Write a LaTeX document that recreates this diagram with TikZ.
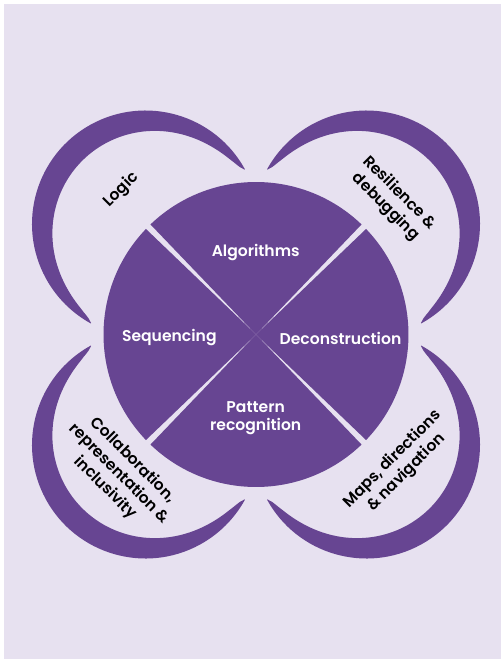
\documentclass[tikz,border=0pt]{standalone}
\usepackage{fontspec}
\setmainfont{Poppins}[BoldFont={Poppins SemiBold}]
\usetikzlibrary{calc}
\definecolor{bgLav}{HTML}{E7E1F0}
\definecolor{plum}{HTML}{674592}
\begin{document}
\begin{tikzpicture}[x=1pt,y=-1pt,
  disc/.style={fill=plum},
  inlabel/.style={text=white,font=\bfseries\fontsize{15.6}{18.5}\selectfont,align=center,inner sep=0pt},
  outlabel/.style={text=black,font=\bfseries\fontsize{15.6}{19.5}\selectfont,align=center,inner sep=0pt}]
% page and panel
\fill[white] (0,0) rectangle (501,659);
\fill[bgLav] (4,4) rectangle (501,659);
\useasboundingbox (0,0) rectangle (501,659);
\coordinate (C) at (256,334.5);
% four crescents, one in each corner: a circular outer edge and a
% tapering thickness that runs out to a point at both tips
\foreach \r in {0,90,180,270}{
  \begin{scope}[shift={(C)},rotate=\r]
    \begin{scope}[shift={(-110.5,-110.5)}]
      \fill[disc] (331.2:113.5) arc[start angle=331.2,end angle=118.8,radius=113.5]
        -- plot[domain=-106.2:106.2,samples=100,variable=\p]
           ({\p+225}:{113.5-24*abs(cos(\p*90/106.3))^0.6}) -- cycle;
    \end{scope}
  \end{scope}
}
% central disc split into four sectors
\foreach \a in {0,90,180,270}{
  \fill[disc] (C) -- ($(C)+({\a-43.8}:152.5)$)
    arc[start angle={\a-43.8},end angle={\a+43.8},radius=152.5] -- cycle;
}
% sector labels
\node[inlabel] (alg) at (255.7,252.5) {Algorithms};
\node[inlabel] (seq) at (169.3,338) {Sequencing};
\node[inlabel] (dec) at (340.5,338.5) {Deconstruction};
\node[inlabel] (pat) at (255.7,418) {Pattern\\recognition};
% crescent labels
\node[outlabel,rotate=45] (logic) at (121.5,190) {Logic};
\node[outlabel,rotate=-45] (res) at (392.5,200) {Resilience \&\\debugging};
\node[outlabel,rotate=-45] (col) at (119,474) {Collaboration,\\representation \&\\inclusivity};
\node[outlabel,rotate=45] (maps) at (399.5,466) {Maps, directions\\\& navigation};
\end{tikzpicture}
\end{document}
